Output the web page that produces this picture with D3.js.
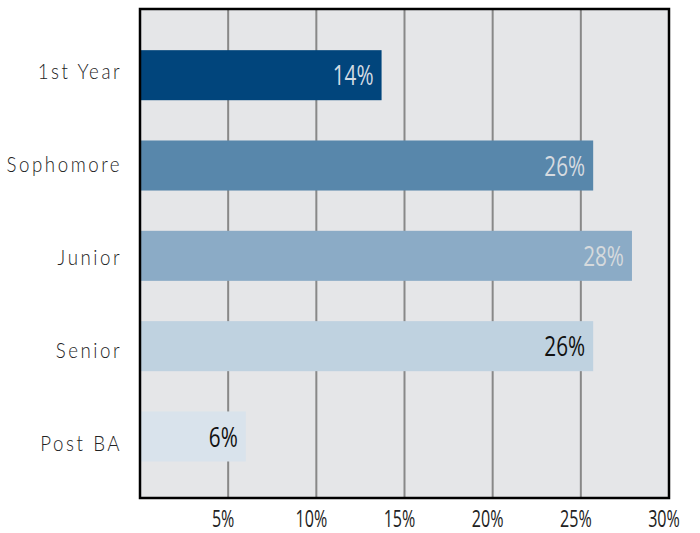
<!DOCTYPE html>
<html>
<head>
<meta charset="utf-8">
<script src="https://cdn.jsdelivr.net/npm/d3@7"></script>
<style>
  body { margin: 0; background: #fff; }
  svg { display: block; }
</style>
</head>
<body>
<div id="plot"></div>
<script>
const categories = ["1st Year", "Sophomore", "Junior", "Senior", "Post BA"];
const shares = [13.7, 25.7, 27.9, 25.7, 6.0];
const barColors = ["#01457c", "#5887ab", "#8babc6", "#bfd2e0", "#d9e3ec"];
const labelColors = ["#d3dbe3", "#d6dbe0", "#d6dadd", "#111111", "#111111"];
const tickValues = [5, 10, 15, 20, 25, 30];

const data = categories.map((c, i) => ({ name: c, value: shares[i], fill: barColors[i], ink: labelColors[i] }));

// Set up dimensions for the graph
const width = 700;
const height = 533;
const margin = { top: 9, right: 31, bottom: 35, left: 140 };

const svg = d3.select("#plot")
  .append("svg")
  .attr("width", width)
  .attr("height", height);

// Scales
const x = d3.scaleLinear()
  .domain([0, 30])
  .range([margin.left, width - margin.right]);

const y = d3.scaleBand()
  .domain(categories)
  .range([margin.top, height - margin.bottom])
  .paddingInner(0.446)
  .paddingOuter(0.43)
  .align(0.53);

// category names sit on their own, slightly wider spacing
const yLabel = d3.scalePoint()
  .domain(categories)
  .range([71.5, 443.5]);

// Plot background
svg.append("rect")
  .attr("x", margin.left)
  .attr("y", margin.top)
  .attr("width", width - margin.left - margin.right)
  .attr("height", height - margin.top - margin.bottom)
  .attr("fill", "#e5e6e8");

// Vertical gridlines
svg.append("g")
  .selectAll("line")
  .data(tickValues.slice(0, -1))
  .enter()
  .append("line")
  .attr("x1", d => x(d))
  .attr("x2", d => x(d))
  .attr("y1", margin.top)
  .attr("y2", height - margin.bottom)
  .attr("stroke", "#888888")
  .attr("stroke-width", 2);

// Bars
svg.append("g")
  .selectAll("rect")
  .data(data)
  .enter()
  .append("rect")
  .attr("x", x(0))
  .attr("y", d => y(d.name))
  .attr("width", d => x(d.value) - x(0))
  .attr("height", y.bandwidth())
  .attr("fill", d => d.fill);

// Value labels inside bars (squeezed to mimic the condensed face)
svg.append("g")
  .selectAll("text")
  .data(data)
  .enter()
  .append("text")
  .attr("transform", d => `translate(${x(d.value) - 8},${y(d.name) + y.bandwidth() / 2}) scale(0.74,1)`)
  .attr("dy", "0.36em")
  .attr("text-anchor", "end")
  .attr("fill", d => d.ink)
  .style("font-family", "'Open Sans', sans-serif")
  .style("font-size", "28px")
  .text(d => Math.round(d.value) + "%");

// Frame
svg.append("rect")
  .attr("x", margin.left)
  .attr("y", margin.top)
  .attr("width", width - margin.left - margin.right)
  .attr("height", height - margin.top - margin.bottom)
  .attr("fill", "none")
  .attr("stroke", "#000")
  .attr("stroke-width", 2.5);

// Category labels
const yAxis = svg.append("g")
  .attr("transform", `translate(${margin.left},0)`)
  .call(d3.axisLeft(yLabel).tickSize(0).tickPadding(21));
yAxis.select(".domain").remove();
yAxis.selectAll("text")
  .attr("fill", "#222")
  .attr("dy", "0.36em")
  .attr("transform", "scale(0.85,1)")
  .style("font-family", "Lato, 'Open Sans', sans-serif")
  .style("font-weight", 300)
  .style("font-size", "22px")
  .style("letter-spacing", "3px");
yAxis.selectAll(".tick")
  .attr("transform", d => `translate(0,${yLabel(d)})`);

// X-axis tick labels
const xAxis = svg.append("g")
  .attr("transform", `translate(-5,${height - margin.bottom})`)
  .call(d3.axisBottom(x).tickValues(tickValues).tickSize(0).tickPadding(13).tickFormat(d => d + "%"));
xAxis.select(".domain").remove();
xAxis.selectAll("text")
  .attr("fill", "#222")
  .attr("transform", "scale(0.7,1)")
  .style("font-family", "'Open Sans', sans-serif")
  .style("font-size", "23px");
xAxis.selectAll(".tick")
  .attr("transform", d => `translate(${x(d)},0)`);
</script>
</body>
</html>
